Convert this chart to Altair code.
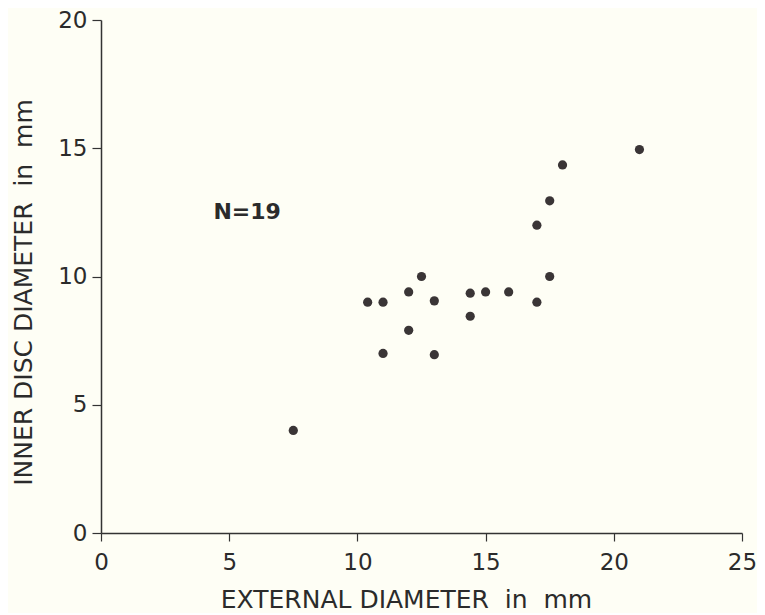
import altair as alt
import pandas as pd

# Data
external_mm = [7.5, 10.4, 11.0, 11.0, 12.0, 12.0, 12.5, 13.0, 13.0, 14.4, 14.4,
               15.0, 15.9, 17.0, 17.5, 17.0, 17.5, 18.0, 21.0]
inner_mm = [4.0, 9.0, 9.0, 7.0, 9.4, 7.9, 10.0, 9.05, 6.95, 9.35, 8.45,
            9.4, 9.4, 9.0, 10.0, 12.0, 12.95, 14.35, 14.95]
x_ticks = [0, 5, 10, 15, 20, 25]
y_ticks = [0, 5, 10, 15, 20]
annotation = ["N=19"]

df = pd.DataFrame({"ext": external_mm, "inner": inner_mm})
ann = pd.DataFrame({"label": annotation, "x": [5.7], "y": [12.5]})

FONT = "DejaVu Sans"
INK = "#2b2b2b"
NB = "\u00a0"

x_enc = alt.X("ext:Q", scale=alt.Scale(domain=[0, 25], nice=False),
              axis=alt.Axis(values=x_ticks,
                            title=f"EXTERNAL DIAMETER {NB}in{NB} mm",
                            grid=False, tickSize=8, labelPadding=10,
                            labelFlush=False,
                            labelFontSize=23, titleFontSize=25,
                            titleFontWeight="normal", titlePadding=13,
                            titleX=305))
y_enc = alt.Y("inner:Q", scale=alt.Scale(domain=[0, 20], nice=False),
              axis=alt.Axis(values=y_ticks,
                            title=f"INNER DISC DIAMETER {NB}in{NB} mm",
                            grid=False, tickSize=9, labelPadding=5,
                            labelFlush=False,
                            labelFontSize=23, titleFontSize=25,
                            titleFontWeight="normal", titlePadding=21,
                            titleY=272))

points = alt.Chart(df).mark_circle(size=85, color="#3a3536", opacity=1).encode(
    x=x_enc, y=y_enc
)

label = alt.Chart(ann).mark_text(font=FONT, fontSize=22, fontWeight="bold",
                                 color=INK, align="center", baseline="middle").encode(
    x=alt.X("x:Q"), y=alt.Y("y:Q"), text="label:N"
)

chart = (points + label).properties(
    width=641, height=513,
    autosize=alt.AutoSizeParams(type="none"),
    padding={"left": 93, "top": 12, "right": 15, "bottom": 80},
    background="#fefef5",
).configure_view(stroke=None).configure_axis(
    domainColor="#333333", domainWidth=1.5, tickColor="#333333", tickWidth=1.2,
    labelColor=INK, titleColor=INK, labelFont=FONT, titleFont=FONT,
)

chart.save("out.html", embed_options={"renderer": "svg", "actions": False})
